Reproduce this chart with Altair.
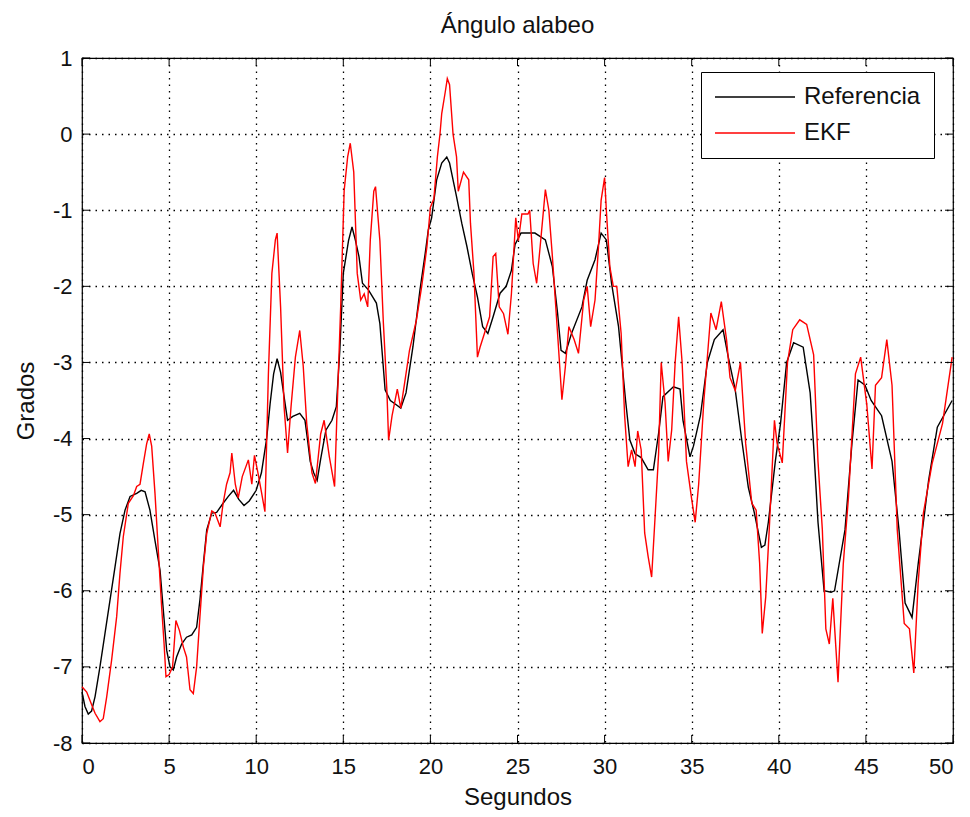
import altair as alt
import pandas as pd

# Roll angle over time: reference signal vs. EKF estimate
t_ref = [0.0, 0.17, 0.36, 0.55, 0.75, 1.03, 1.32, 1.61, 1.9, 2.18, 2.47, 2.76, 3.14, 3.4, 3.62,
         3.9, 4.19, 4.48, 4.67, 4.86, 5.05, 5.24, 5.43, 5.72, 6.0, 6.3, 6.58, 6.77, 6.97, 7.16,
         7.45, 7.73, 8.1, 8.4, 8.7, 9.0, 9.3, 9.6, 10.0, 10.3, 10.6, 10.8, 11.0, 11.2, 11.4,
         11.6, 11.8, 12.1, 12.5, 12.8, 12.95, 13.1, 13.3, 13.5, 13.7, 14.0, 14.35, 14.6, 14.8,
         15.0, 15.3, 15.5, 15.7, 15.9, 16.1, 16.45, 16.9, 17.1, 17.4, 17.7, 18.0, 18.3, 18.6,
         19.0, 19.4, 19.7, 19.88, 20.07, 20.36, 20.65, 20.94, 21.1, 21.3, 21.5, 21.8, 22.1,
         22.4, 22.7, 23.0, 23.3, 23.6, 24.0, 24.35, 24.65, 24.86, 25.2, 26.0, 26.6, 27.0, 27.3,
         27.5, 27.75, 28.1, 28.7, 29.0, 29.45, 29.8, 30.1, 30.4, 30.8, 31.2, 31.45, 31.75, 32.1,
         32.5, 32.8, 33.1, 33.35, 33.95, 34.33, 34.5, 34.9, 35.1, 35.5, 35.9, 36.3, 36.8, 37.1,
         37.5, 37.85, 38.25, 38.6, 39.0, 39.2, 39.4, 39.8, 40.1, 40.45, 40.85, 41.4, 41.8, 42.0,
         42.25, 42.6, 43.0, 43.2, 43.8, 44.2, 44.55, 44.95, 45.3, 45.9, 46.5, 46.9, 47.25, 47.65,
         48.0, 48.6, 49.1, 49.95]
v_ref = [-7.33, -7.52, -7.62, -7.58, -7.39, -7.0, -6.56, -6.12, -5.68, -5.25, -4.94, -4.76, -4.72,
         -4.68, -4.7, -4.94, -5.34, -5.73, -6.26, -6.78, -7.0, -7.04, -6.87, -6.7, -6.61, -6.58,
         -6.48, -6.12, -5.64, -5.2, -4.98, -4.97, -4.85, -4.76, -4.68, -4.8, -4.88, -4.82, -4.68,
         -4.45, -4.0, -3.54, -3.15, -2.95, -3.13, -3.45, -3.76, -3.71, -3.67, -3.76, -4.02, -4.3,
         -4.45, -4.55, -4.27, -3.89, -3.76, -3.58, -2.84, -1.83, -1.4, -1.22, -1.4, -1.61, -1.96,
         -2.05, -2.22, -2.49, -3.36, -3.5, -3.55, -3.6, -3.4, -2.79, -2.05, -1.57, -1.26, -1.1,
         -0.6, -0.38, -0.3, -0.38, -0.6, -0.82, -1.17, -1.48, -1.83, -2.14, -2.53, -2.62, -2.4,
         -2.09, -2.0, -1.79, -1.45, -1.3, -1.3, -1.39, -1.74, -2.35, -2.84, -2.88, -2.62, -2.27,
         -1.92, -1.65, -1.3, -1.39, -1.96, -2.53, -3.49, -4.02, -4.2, -4.25, -4.41, -4.41, -3.93,
         -3.45, -3.32, -3.35, -3.76, -4.24, -4.1, -3.7, -3.0, -2.7, -2.57, -2.93, -3.36, -3.98,
         -4.64, -4.98, -5.43, -5.4, -5.1, -4.3, -3.8, -3.0, -2.74, -2.8, -3.4, -4.1, -5.1, -6.0,
         -6.02, -6.0, -5.2, -4.06, -3.23, -3.3, -3.5, -3.7, -4.3, -5.2, -6.16, -6.35, -5.65,
         -4.55, -3.85, -3.5]

t_ekf = [0.0, 0.27, 0.56, 0.75, 1.03, 1.22, 1.42, 1.7, 1.99, 2.18, 2.37, 2.66, 2.95, 3.14, 3.33,
         3.52, 3.71, 3.86, 4.0, 4.19, 4.38, 4.57, 4.71, 4.82, 5.0, 5.2, 5.39, 5.59, 5.82, 6.0,
         6.2, 6.39, 6.58, 6.77, 6.97, 7.16, 7.45, 7.64, 7.93, 8.1, 8.3, 8.5, 8.6, 8.8, 8.97, 9.2,
         9.55, 9.75, 9.9, 10.1, 10.3, 10.5, 10.7, 10.9, 11.1, 11.2, 11.4, 11.6, 11.8, 12.0,
         12.25, 12.5, 12.7, 12.9, 13.2, 13.4, 13.7, 13.9, 14.2, 14.5, 14.65, 14.85, 15.05,
         15.25, 15.4, 15.6, 15.8, 16.0, 16.2, 16.4, 16.55, 16.75, 16.85, 17.1, 17.3, 17.5, 17.6,
         17.8, 18.1, 18.3, 18.5, 18.8, 19.2, 19.5, 19.8, 20.0, 20.2, 20.4, 20.55, 20.65, 20.85,
         20.97, 21.1, 21.3, 21.5, 21.6, 21.9, 22.2, 22.3, 22.5, 22.7, 22.85, 23.1, 23.4, 23.6,
         23.75, 23.95, 24.2, 24.45, 24.65, 24.9, 25.05, 25.25, 25.6, 25.7, 25.9, 26.1, 26.3,
         26.6, 26.8, 27.0, 27.3, 27.55, 27.75, 27.95, 28.25, 28.5, 28.8, 29.0, 29.2, 29.45,
         29.65, 29.8, 30.0, 30.1, 30.3, 30.5, 30.7, 30.95, 31.15, 31.35, 31.55, 31.75, 31.9,
         32.1, 32.3, 32.5, 32.7, 32.9, 33.1, 33.25, 33.47, 33.65, 33.85, 34.05, 34.25, 34.45,
         34.7, 35.0, 35.2, 35.4, 35.7, 36.1, 36.4, 36.7, 37.0, 37.2, 37.5, 37.8, 38.1, 38.45,
         38.7, 38.9, 39.05, 39.25, 39.45, 39.75, 39.9, 40.2, 40.5, 40.8, 41.2, 41.6, 42.0,
         42.25, 42.5, 42.7, 42.9, 43.1, 43.4, 43.7, 44.0, 44.4, 44.7, 45.05, 45.35, 45.55,
         45.9, 46.2, 46.5, 46.8, 47.2, 47.5, 47.75, 48.0, 48.3, 48.8, 49.4, 49.95]
v_ekf = [-7.26, -7.33, -7.5, -7.61, -7.72, -7.68, -7.39, -6.91, -6.34, -5.77, -5.29, -4.85, -4.75,
         -4.63, -4.6, -4.33, -4.07, -3.94, -4.1, -4.72, -5.47, -6.21, -6.69, -7.13, -7.1, -7.0,
         -6.39, -6.52, -6.74, -6.87, -7.3, -7.35, -7.0, -6.34, -5.68, -5.25, -4.95, -4.98, -5.16,
         -4.85, -4.6, -4.45, -4.19, -4.6, -4.78, -4.5, -4.28, -4.6, -4.22, -4.45, -4.7, -4.96,
         -3.15, -1.83, -1.39, -1.3, -2.27, -3.58, -4.19, -3.58, -2.93, -2.58, -3.05, -3.8, -4.45,
         -4.59, -3.94, -3.76, -4.24, -4.63, -3.58, -2.27, -0.74, -0.3, -0.12, -0.5, -1.83, -2.18,
         -2.1, -2.27, -1.39, -0.75, -0.69, -1.4, -2.48, -3.36, -4.02, -3.7, -3.35, -3.6, -3.3,
         -2.84, -2.44, -2.0, -1.48, -0.96, -0.85, -0.3, 0.0, 0.27, 0.55, 0.73, 0.65, 0.0, -0.3,
         -0.75, -0.5, -0.6, -1.17, -1.83, -2.93, -2.8, -2.62, -2.4, -1.61, -1.57, -2.27, -2.36,
         -2.63, -2.1, -1.1, -1.4, -1.05, -1.05, -1.0, -1.7, -1.96, -1.48, -0.73, -1.0, -1.6,
         -2.62, -3.49, -3.05, -2.53, -2.7, -2.88, -2.18, -2.0, -2.53, -2.18, -1.48, -0.87, -0.57,
         -1.0, -1.74, -2.0, -2.0, -2.62, -3.7, -4.37, -4.15, -4.37, -3.9, -4.15, -5.24, -5.55,
         -5.82, -5.02, -4.2, -3.0, -3.53, -4.3, -3.89, -3.0, -2.4, -3.0, -4.3, -4.8, -5.1, -4.6,
         -3.5, -2.35, -2.57, -2.2, -2.7, -3.2, -3.37, -3.0, -4.07, -4.85, -4.94, -5.64, -6.56,
         -6.08, -5.2, -3.76, -4.06, -4.32, -3.0, -2.57, -2.44, -2.5, -2.9, -4.3, -5.2, -6.5,
         -6.7, -6.1, -7.2, -5.65, -4.77, -3.15, -2.93, -3.55, -4.4, -3.3, -3.2, -2.7, -3.3,
         -5.2, -6.43, -6.5, -7.08, -5.9, -4.98, -4.33, -3.8, -2.93]

series_names = ["Referencia", "EKF"]
series_colors = ["#000000", "#ff0000"]
x_ticks = [0, 5, 10, 15, 20, 25, 30, 35, 40, 45, 50]
y_ticks = [-8, -7, -6, -5, -4, -3, -2, -1, 0, 1]

W, H = 871, 685
FONT = "Liberation Sans"
TEXT_FS = 24
TICK_FS = 22
TICK_LEN = 8
INK = "#111111"
LINE_W = 1.4

ref_df = pd.DataFrame({"t": t_ref, "v": v_ref, "serie": series_names[0]})
ekf_df = pd.DataFrame({"t": t_ekf, "v": v_ekf, "serie": series_names[1]})
xt_df = pd.DataFrame({"x": x_ticks})
yt_df = pd.DataFrame({"y": y_ticks})

x_scale = alt.Scale(domain=[0, 50], nice=False, zero=False)
y_scale = alt.Scale(domain=[-8, 1], nice=False, zero=False)

color = alt.Color(
    "serie:N",
    scale=alt.Scale(domain=series_names, range=series_colors),
    legend=alt.Legend(
        title=None, orient="none", legendX=619, legendY=14, direction="vertical",
        symbolType="stroke", symbolSize=6400, symbolStrokeWidth=LINE_W, clipHeight=24,
        labelFont=FONT, labelFontSize=TEXT_FS, labelColor=INK, labelOffset=8,
        strokeColor="black", fillColor="white", padding=13, rowPadding=12,
        labelLimit=400,
    ),
)

# plain hyphen for negative tick labels
plain_label = "'' + datum.value"

x_enc = alt.X(
    "t:Q", scale=x_scale,
    axis=alt.Axis(values=x_ticks, title="Segundos", grid=True, tickSize=0, domain=False,
                  labelPadding=13, titlePadding=8, labelExpr=plain_label),
)
y_enc = alt.Y(
    "v:Q", scale=y_scale,
    axis=alt.Axis(values=y_ticks, title="Grados", grid=True, tickSize=0, domain=False,
                  labelPadding=10, titlePadding=14, labelExpr=plain_label),
)

ref_line = alt.Chart(ref_df).mark_line(strokeWidth=LINE_W).encode(x=x_enc, y=y_enc, color=color)
ekf_line = alt.Chart(ekf_df).mark_line(strokeWidth=LINE_W).encode(x=x_enc, y=y_enc, color=color)

# inward-pointing tick marks on all four sides of the box
tick_style = dict(color="black", strokeWidth=1)
x_bottom = alt.Chart(xt_df).mark_rule(**tick_style).encode(
    x=alt.X("x:Q", scale=x_scale), y=alt.value(H - TICK_LEN), y2=alt.value(H))
x_top = alt.Chart(xt_df).mark_rule(**tick_style).encode(
    x=alt.X("x:Q", scale=x_scale), y=alt.value(0), y2=alt.value(TICK_LEN))
y_left = alt.Chart(yt_df).mark_rule(**tick_style).encode(
    y=alt.Y("y:Q", scale=y_scale), x=alt.value(0), x2=alt.value(TICK_LEN))
y_right = alt.Chart(yt_df).mark_rule(**tick_style).encode(
    y=alt.Y("y:Q", scale=y_scale), x=alt.value(W - TICK_LEN), x2=alt.value(W))

chart = alt.layer(ref_line, ekf_line, x_bottom, x_top, y_left, y_right).properties(
    width=W, height=H,
    background="white",
    title=alt.TitleParams("Ángulo alabeo", font=FONT, fontSize=TEXT_FS, fontWeight="normal",
                          color=INK, offset=9, anchor="middle"),
    padding={"left": 82, "top": 58, "right": 17, "bottom": 74},
    autosize=alt.AutoSizeParams(type="none"),
).configure_view(
    stroke="black", strokeWidth=1.2
).configure_axis(
    labelFont=FONT, labelFontSize=TICK_FS, labelColor=INK,
    titleFont=FONT, titleFontSize=TEXT_FS, titleFontWeight="normal", titleColor=INK,
    gridColor="black", gridDash=[1.5, 5], gridWidth=1.3, gridOpacity=1,
)

chart.save("out.html", embed_options={"renderer": "svg", "actions": False})
